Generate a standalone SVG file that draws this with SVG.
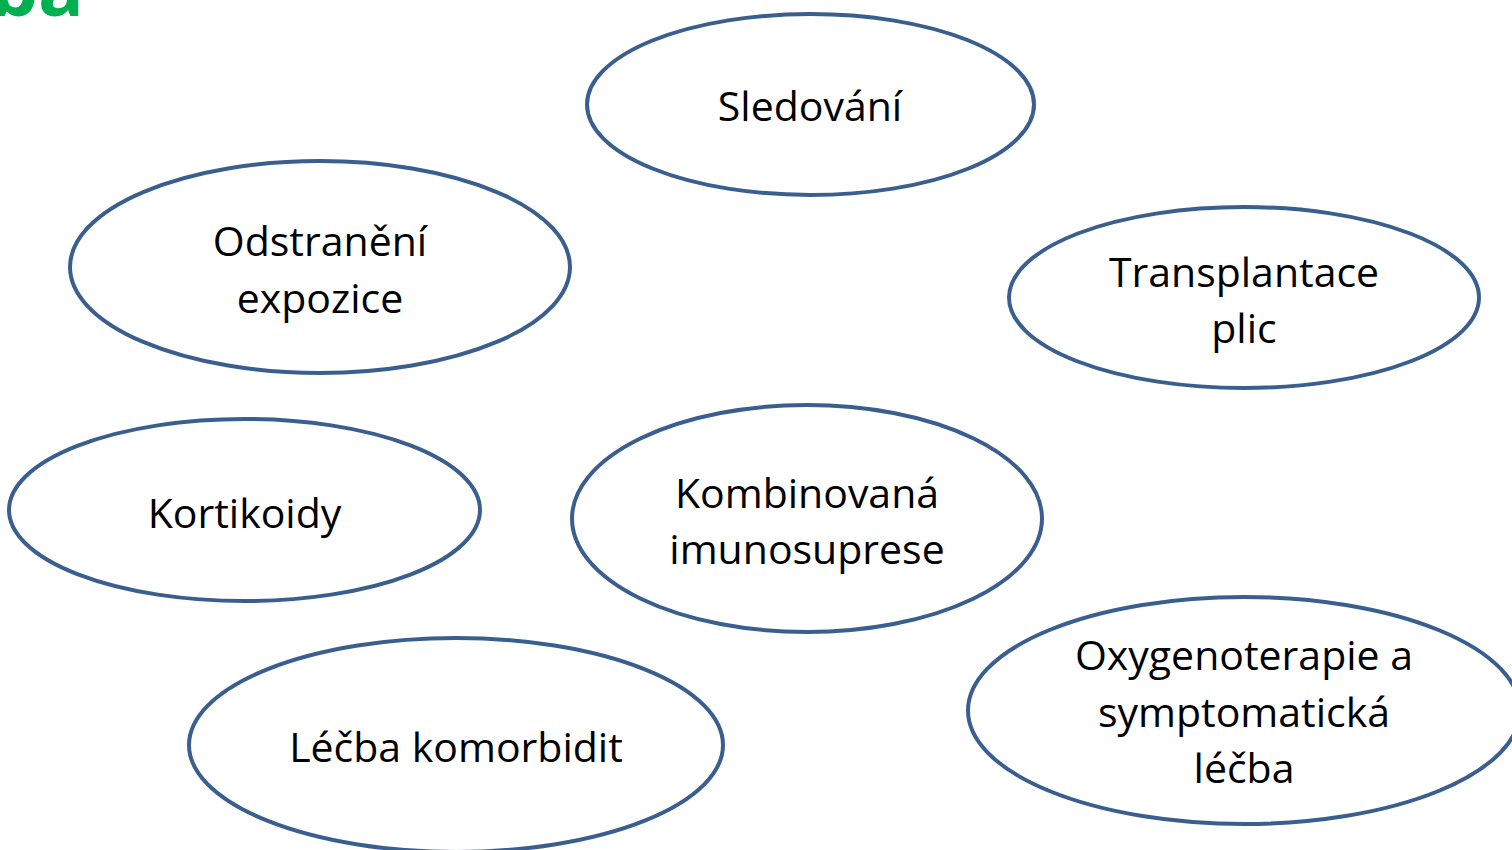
<svg xmlns="http://www.w3.org/2000/svg" width="1512" height="850" viewBox="0 0 1512 850">
  <style>
    .node { fill: #ffffff; stroke: #3A5F8F; stroke-width: 4; }
    .label { font-family: "Open Sans", "Liberation Sans", sans-serif; font-size: 41px; fill: #000000; text-anchor: middle; }
    .title { font-family: "Open Sans", "Liberation Sans", sans-serif; font-size: 76px; font-weight: bold; fill: #00B050; }
  </style>
  <rect x="0" y="0" width="1512" height="850" fill="#ffffff"/>
  <text class="title" x="-10" y="16">ba</text>
  <g id="connectors"/>
  <g id="node-sledovani">
    <ellipse class="node" cx="810.5" cy="104.5" rx="223.5" ry="90.5"/>
    <text class="label" x="810" y="121">Sledování</text>
  </g>
  <g id="node-odstraneni">
    <ellipse class="node" cx="320" cy="267" rx="250" ry="106"/>
    <text class="label" x="320" y="256">Odstranění</text>
    <text class="label" x="320" y="313">expozice</text>
  </g>
  <g id="node-transplantace">
    <ellipse class="node" cx="1244" cy="297.5" rx="235" ry="90.5"/>
    <text class="label" x="1244" y="287">Transplantace</text>
    <text class="label" x="1244" y="343">plic</text>
  </g>
  <g id="node-kortikoidy">
    <ellipse class="node" cx="244.5" cy="510" rx="235.5" ry="91"/>
    <text class="label" x="244.5" y="528">Kortikoidy</text>
  </g>
  <g id="node-imunosuprese">
    <ellipse class="node" cx="807" cy="518.5" rx="235" ry="113.5"/>
    <text class="label" x="807" y="508">Kombinovaná</text>
    <text class="label" x="807" y="564">imunosuprese</text>
  </g>
  <g id="node-komorbidity">
    <ellipse class="node" cx="456" cy="745" rx="267" ry="107"/>
    <text class="label" x="456" y="762">Léčba komorbidit</text>
  </g>
  <g id="node-oxygenoterapie">
    <ellipse class="node" cx="1244" cy="710.5" rx="276" ry="113.5"/>
    <text class="label" x="1244" y="670">Oxygenoterapie a</text>
    <text class="label" x="1244" y="727">symptomatická</text>
    <text class="label" x="1244" y="783">léčba</text>
  </g>
</svg>
